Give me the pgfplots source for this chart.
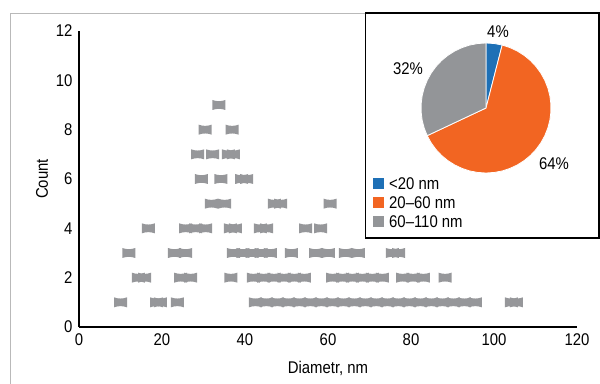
\documentclass[border=0pt]{standalone}
\usepackage{fontspec}
\setmainfont{Liberation Sans}[FakeStretch=0.88]
\usepackage{pgfplots}
\pgfplotsset{compat=1.18}
\definecolor{dotgray}{RGB}{150,151,154}
\definecolor{pieblue}{RGB}{30,112,182}
\definecolor{pieorange}{RGB}{242,101,34}
\definecolor{piegray}{RGB}{147,149,152}
\definecolor{framegray}{RGB}{185,185,185}
\pgfdeclareplotmark{bowtie}{%
  \pgfpathmoveto{\pgfqpoint{-6.5bp}{5bp}}%
  \pgfpathquadraticcurveto{\pgfqpoint{0bp}{2.6bp}}{\pgfqpoint{6.5bp}{5bp}}%
  \pgfpathlineto{\pgfqpoint{6.5bp}{-5bp}}%
  \pgfpathquadraticcurveto{\pgfqpoint{0bp}{-2.6bp}}{\pgfqpoint{-6.5bp}{-5bp}}%
  \pgfpathclose\pgfusepathqfill}
\begin{document}
\begin{tikzpicture}
\useasboundingbox (0,0) rectangle (600bp,384bp);
\draw[framegray, line width=0.8bp] (10bp,-2bp) -- (10bp,371bp) -- (600bp,371bp);
\begin{axis}[
  scale only axis, width=498bp, height=296bp,
  at={(79bp,57bp)}, anchor=south west,
  xmin=0, xmax=120, ymin=0, ymax=12,
  xtick={0,20,...,120}, ytick={0,2,...,12},
  axis x line*=bottom, axis y line*=left,
  axis line style={line width=1.6bp, -},
  major tick length=0pt,
  /pgf/number format/assume math mode=true,
  tick label style={font=\fontsize{17}{20}\selectfont},
  xticklabel style={yshift=-3bp},
  yticklabel style={xshift=-3bp},
  label style={font=\fontsize{17}{20}\selectfont},
  xlabel={Diametr, nm},
  ylabel={Count},
  xlabel style={at={(axis description cs:0.5,-0.139)}, anchor=center},
  ylabel style={at={(axis description cs:-0.0743,0.5)}, anchor=center, rotate=0},
]
\addplot[only marks, mark=bowtie, color=dotgray] coordinates {
(10.0,1) (18.7,1) (19.6,1) (23.7,1) (42.5,1) (45.15,1) (47.8,1) (50.45,1) (53.1,1) (55.75,1) (58.4,1) (61.05,1) (63.7,1) (66.35,1) (69.0,1) (71.65,1) (74.3,1) (76.95,1) (79.6,1) (82.25,1) (84.9,1) (87.55,1) (90.2,1) (92.85,1) (95.5,1) (104.2,1) (105.4,1)
(14.3,2) (15.8,2) (24.5,2) (26.9,2) (36.6,2) (42.0,2) (44.5,2) (47.0,2) (49.4,2) (51.9,2) (54.3,2) (61.1,2) (63.5,2) (65.9,2) (68.3,2) (70.7,2) (73.1,2) (78.0,2) (80.5,2) (83.0,2) (88.2,2)
(12.0,3) (23.0,3) (25.7,3) (37.2,3) (39.5,3) (41.7,3) (43.9,3) (46.1,3) (51.2,3) (57.0,3) (60.1,3) (64.2,3) (67.3,3) (75.5,3) (77.0,3)
(16.7,4) (25.7,4) (28.1,4) (30.5,4) (36.5,4) (37.7,4) (43.7,4) (45.2,4) (54.6,4) (58.2,4)
(31.9,5) (35.1,5) (47.1,5) (48.6,5) (60.5,5)
(29.5,6) (34.2,6) (39.2,6) (40.4,6)
(28.6,7) (32.2,7) (36.0,7) (37.2,7)
(30.4,8) (36.9,8)
(33.7,9)
};
\end{axis}
% inset box
\filldraw[fill=white, draw=black, line width=1.8bp] (365.5bp,146bp) rectangle (599bp,371bp);
\begin{axis}[
  scale only axis, width=130bp, height=130bp,
  at={(486bp,276bp)}, anchor=center,
  xmin=-1, xmax=1, ymin=-1, ymax=1,
  hide axis, clip=false,
]
\addplot[data cs=polar, fill=pieblue, draw=white, line width=0.8bp] coordinates {
(0,0) (90,1) (82.8,1) (75.6,1)} -- cycle;
\addplot[data cs=polar, fill=pieorange, draw=white, line width=0.8bp] coordinates {
(0,0) (75.6,1) (68.4,1) (61.2,1) (54,1) (46.8,1) (39.6,1) (32.4,1) (25.2,1) (18,1) (10.8,1) (3.6,1) (-3.6,1) (-10.8,1) (-18,1) (-25.2,1) (-32.4,1) (-39.6,1) (-46.8,1) (-54,1) (-61.2,1) (-68.4,1) (-75.6,1) (-82.8,1) (-90,1) (-97.2,1) (-104.4,1) (-111.6,1) (-118.8,1) (-126,1) (-133.2,1) (-140.4,1) (-147.6,1) (-154.8,1)} -- cycle;
\addplot[data cs=polar, fill=piegray, draw=white, line width=0.8bp] coordinates {
(0,0) (-154.8,1) (-162,1) (-169.2,1) (-176.4,1) (-183.6,1) (-190.8,1) (-198,1) (-205.2,1) (-212.4,1) (-219.6,1) (-226.8,1) (-234,1) (-241.2,1) (-248.4,1) (-255.6,1) (-262.8,1) (-270,1)} -- cycle;
\end{axis}
\begin{scope}[every node/.style={font=\fontsize{17}{20}\selectfont, inner sep=0pt}]
\node at (498bp,352bp) {4\%};
\node at (408bp,315bp) {32\%};
\node at (554bp,220bp) {64\%};
\fill[pieblue] (373bp,194.5bp) rectangle (384bp,205.5bp);
\fill[pieorange] (373bp,175.5bp) rectangle (384bp,186.5bp);
\fill[piegray] (373bp,156.5bp) rectangle (384bp,167.5bp);
\node[anchor=west] at (389bp,200bp) {<20 nm};
\node[anchor=west] at (389bp,181bp) {20–60 nm};
\node[anchor=west] at (389bp,162bp) {60–110 nm};
\end{scope}
\end{tikzpicture}
\end{document}
